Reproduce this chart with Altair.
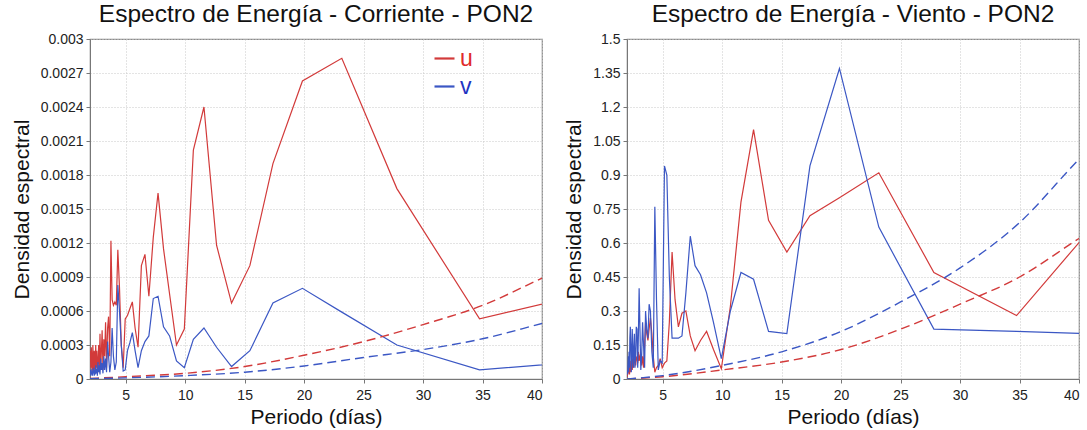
import altair as alt
import pandas as pd

# Periods (days) of the spectral estimates
periods = [46.33, 34.75, 27.80, 23.17, 19.86, 17.38, 15.44, 13.90, 12.64, 11.58,
           10.69, 9.93, 9.27, 8.69, 8.18, 7.72, 7.32, 6.95, 6.62, 6.32,
           6.04, 5.79, 5.56, 5.35, 5.15, 4.96, 4.79, 4.63, 4.48, 4.34,
           4.21, 4.09, 3.97, 3.86, 3.76, 3.66, 3.56, 3.48, 3.39, 3.31,
           3.23, 3.16, 3.09, 3.02, 2.96, 2.90, 2.84, 2.78, 2.73, 2.67,
           2.62, 2.57, 2.53, 2.48, 2.44, 2.40, 2.36, 2.32, 2.28, 2.24,
           2.21, 2.17, 2.14, 2.11, 2.07, 2.04, 2.01]

# Corriente (values x 1e-4)
cur_u = [8.2, 5.3, 16.8, 28.3, 26.3, 19.0, 10.0, 6.7, 11.8, 24.0,
         20.2, 4.4, 3.0, 7.5, 11.5, 16.4, 12.5, 7.3, 11.0, 10.0,
         2.8, 4.5, 6.8, 6.2, 5.6, 5.3, 1.0, 3.0, 8.0, 11.4,
         6.5, 6.8, 6.5, 7.0, 12.2, 2.0, 5.5, 4.5, 1.0, 5.0,
         2.0, 3.5, 0.8, 4.3, 2.5, 1.0, 4.0, 0.6, 3.0, 1.5,
         0.8, 2.5, 1.0, 3.0, 0.5, 1.8, 2.5, 0.7, 1.5, 3.0,
         1.0, 0.5, 2.0, 2.8, 1.0, 2.5, 1.5]
cur_v = [1.8, 0.8, 3.0, 5.9, 8.0, 6.7, 2.5, 1.1, 2.8, 4.5,
         3.5, 1.0, 1.6, 3.8, 4.6, 7.3, 7.1, 3.8, 3.3, 2.5,
         1.0, 2.5, 4.1, 3.2, 2.5, 0.8, 0.7, 3.0, 6.0, 8.3,
         1.5, 0.8, 2.0, 4.5, 1.5, 0.6, 2.0, 3.3, 0.6, 1.8,
         0.8, 2.0, 0.5, 1.4, 0.8, 1.8, 0.4, 1.2, 0.6, 1.5,
         0.3, 0.9, 0.5, 1.2, 0.4, 0.8, 0.3, 1.0, 0.5, 0.7,
         0.3, 0.9, 0.4, 0.6, 0.3, 0.8, 0.5]

# Viento
win_u = [0.99, 0.28, 0.47, 0.91, 0.80, 0.72, 0.56, 0.70, 1.10, 0.78,
         0.32, 0.045, 0.13, 0.21, 0.17, 0.125, 0.19, 0.30, 0.29, 0.23,
         0.35, 0.56, 0.25, 0.08, 0.07, 0.05, 0.09, 0.06, 0.05, 0.03,
         0.10, 0.20, 0.27, 0.22, 0.17, 0.20, 0.25, 0.15, 0.05, 0.10,
         0.06, 0.09, 0.10, 0.08, 0.12, 0.07, 0.10, 0.09, 0.06, 0.10,
         0.08, 0.05, 0.10, 0.07, 0.04, 0.09, 0.05, 0.08, 0.03, 0.06,
         0.02, 0.05, 0.03, 0.04, 0.02, 0.03, 0.01]
win_v = [0.19, 0.21, 0.22, 0.67, 1.37, 0.94, 0.20, 0.21, 0.44, 0.47,
         0.30, 0.09, 0.25, 0.38, 0.46, 0.50, 0.63, 0.38, 0.19, 0.18,
         0.18, 0.18, 0.45, 0.90, 0.94, 0.07, 0.08, 0.04, 0.35, 0.76,
         0.05, 0.12, 0.30, 0.33, 0.18, 0.22, 0.30, 0.05, 0.15, 0.25,
         0.10, 0.04, 0.22, 0.40, 0.20, 0.05, 0.22, 0.23, 0.10, 0.05,
         0.20, 0.12, 0.05, 0.15, 0.22, 0.08, 0.03, 0.15, 0.23, 0.18,
         0.05, 0.12, 0.03, 0.10, 0.05, 0.02, 0.03]

# Dashed reference curves
ref_periods = [2, 5, 10, 15, 20, 25, 30, 35, 40, 46.33]
cur_u_ref = [0.05, 0.2, 0.5, 1.1, 2.1, 3.3, 4.8, 6.5, 8.9, 12.0]   # x 1e-4
cur_v_ref = [0.02, 0.1, 0.3, 0.6, 1.15, 1.9, 2.6, 3.55, 4.9, 6.6]  # x 1e-4
win_u_ref = [0.0, 0.01, 0.04, 0.075, 0.13, 0.22, 0.33, 0.45, 0.62, 0.83]
win_v_ref = [0.0, 0.015, 0.06, 0.12, 0.21, 0.34, 0.49, 0.69, 0.97, 1.30]

cur_yticks = [0, 0.0003, 0.0006, 0.0009, 0.0012, 0.0015, 0.0018, 0.0021, 0.0024, 0.0027, 0.003]
win_yticks = [0, 0.15, 0.3, 0.45, 0.6, 0.75, 0.9, 1.05, 1.2, 1.35, 1.5]
xticks = [5, 10, 15, 20, 25, 30, 35, 40]

series = ["u", "v"]
line_colors = ["#d23a3a", "#3b57c4"]
FONT = "Liberation Sans"


def long_df(xs, u, v, scale):
    rows = []
    for name, vals in (("u", u), ("v", v)):
        for x, y in zip(xs, vals):
            rows.append({"periodo": x, "valor": y * scale, "serie": name})
    return pd.DataFrame(rows)


def panel(title, u, v, uref, vref, scale, ymax, yticks, yfmt, legend_x):
    solid = long_df(periods, u, v, scale)
    dashed = long_df(ref_periods, uref, vref, scale)
    x = alt.X("periodo:Q", title="Periodo (días)",
              scale=alt.Scale(domain=[2, 40], nice=False, zero=False),
              axis=alt.Axis(values=xticks, format="d"))
    y = alt.Y("valor:Q", title="Densidad espectral",
              scale=alt.Scale(domain=[0, ymax], nice=False),
              axis=alt.Axis(values=yticks, format=yfmt))
    color = alt.Color("serie:N",
                      scale=alt.Scale(domain=series, range=line_colors),
                      legend=alt.Legend(
                          title=None, orient="none",
                          legendX=legend_x, legendY=8,
                          symbolType="stroke", symbolSize=400,
                          symbolStrokeWidth=2.2,
                          labelFontSize=23, labelFont=FONT,
                          labelColor={"expr": "datum.value == 'u' ? '#e02a2a' : '#1f33c2'"},
                          rowPadding=4, labelOffset=4))
    l1 = alt.Chart(solid).mark_line(strokeWidth=1.2, clip=True).encode(
        x=x, y=y, color=color, order="periodo:Q")
    l2 = alt.Chart(dashed).mark_line(strokeWidth=1.4, strokeDash=[9, 5],
                                     clip=True, interpolate="monotone").encode(
        x=x, y=y, color=alt.Color("serie:N",
                                  scale=alt.Scale(domain=series, range=line_colors),
                                  legend=None),
        order="periodo:Q")
    return alt.layer(l1, l2).properties(
        width=452, height=340,
        title=alt.Title(title, fontSize=24.5, font=FONT, fontWeight="normal",
                        color="#111", offset=5))


left = panel("Espectro de Energía - Corriente - PON2", cur_u, cur_v,
             cur_u_ref, cur_v_ref, 1e-4, 0.003, cur_yticks, ".4~f", 343)
right = panel("Espectro de Energía - Viento - PON2", win_u, win_v,
              win_u_ref, win_v_ref, 1.0, 1.5, win_yticks, ".2~f", 348)

chart = alt.hconcat(left, right, spacing=19).properties(
    padding={"left": 10, "top": 0, "right": 4, "bottom": 0},
    background="white",
).configure_view(stroke="#8a8a8a", strokeWidth=1.2).configure_axis(
    labelFont=FONT, titleFont=FONT, labelFontSize=14, titleFontSize=21,
    titleFontWeight="normal", labelColor="#222", titleColor="#111",
    gridColor="#c8c8c8", gridDash=[1, 2], gridWidth=1,
    domainColor="#777", tickColor="#777", tickSize=4, labelPadding=3,
).configure_axisX(titlePadding=4, labelPadding=5).configure_axisY(
    titlePadding=8
)

chart.save("out.html", embed_options={"renderer": "svg", "actions": False})
